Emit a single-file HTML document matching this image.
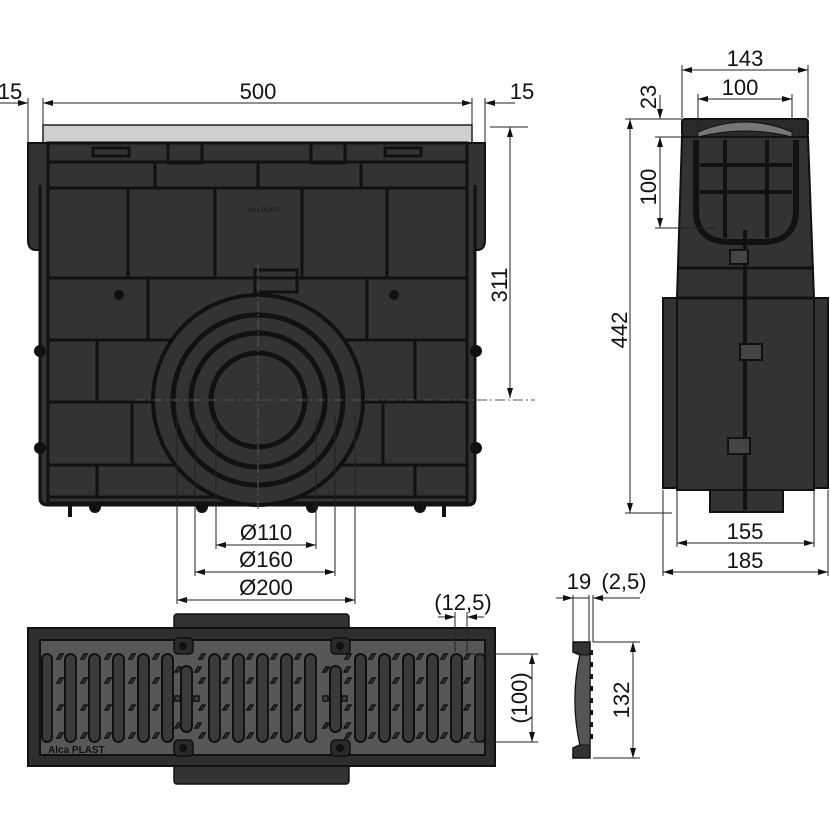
<!DOCTYPE html>
<html><head><meta charset="utf-8"><style>
html,body{margin:0;padding:0;background:#fff;}
svg{display:block;}
text{font-family:"Liberation Sans Narrow","Liberation Sans",sans-serif;font-size:22px;fill:#111;}
</style></head><body>
<svg width="830" height="830" viewBox="0 0 830 830" xmlns="http://www.w3.org/2000/svg">
<defs>
<marker id="a" viewBox="0 0 10 6" refX="10" refY="3" markerWidth="12" markerHeight="6" orient="auto-start-reverse" markerUnits="userSpaceOnUse"><path d="M0,0L10,3L0,6z" fill="#111"/></marker>
</defs>
<!-- ============ FRONT VIEW ============ -->
<rect x="43" y="125" width="429" height="18" fill="#cfcfcf" stroke="#222" stroke-width="1.5"/>
<path d="M28,143 L50,143 L50,250 L36,250 Q28,250 28,240 Z" fill="#333" stroke="#111" stroke-width="2"/>
<path d="M465,143 L485,143 L485,240 Q485,250 477,250 L465,250 Z" fill="#333" stroke="#111" stroke-width="2"/>
<path d="M40,185 L40,498 Q40,505 48,505 L468,505 Q475,505 475,498 L475,185" fill="#333" stroke="#111" stroke-width="3"/>
<rect x="48" y="143" width="419" height="360" fill="#333" stroke="#111" stroke-width="3"/>
<g stroke="#111" stroke-width="3" fill="none">
<line x1="48" y1="162" x2="467" y2="162"/>
<line x1="48" y1="188" x2="467" y2="188"/>
<line x1="48" y1="278" x2="467" y2="278"/>
<line x1="48" y1="340" x2="467" y2="340"/>
<line x1="48" y1="402" x2="467" y2="402"/>
<line x1="48" y1="465" x2="467" y2="465"/>
<line x1="48" y1="497" x2="467" y2="497"/>
<line x1="155" y1="162" x2="155" y2="188"/><line x1="258" y1="162" x2="258" y2="188"/><line x1="361" y1="162" x2="361" y2="188"/>
<line x1="128" y1="188" x2="128" y2="278"/><line x1="215" y1="188" x2="215" y2="278"/><line x1="302" y1="188" x2="302" y2="278"/><line x1="387" y1="188" x2="387" y2="278"/>
<line x1="148" y1="278" x2="148" y2="340"/><line x1="367" y1="278" x2="367" y2="340"/>
<line x1="97" y1="340" x2="97" y2="402"/><line x1="415" y1="340" x2="415" y2="402"/>
<line x1="132" y1="402" x2="132" y2="465"/><line x1="383" y1="402" x2="383" y2="465"/>
<line x1="97" y1="465" x2="97" y2="497"/><line x1="415" y1="465" x2="415" y2="497"/>
<rect x="93" y="148" width="36" height="8"/><rect x="385" y="148" width="36" height="8"/>
<rect x="168" y="143" width="34" height="20"/><rect x="311" y="143" width="34" height="20"/>
<rect x="255" y="270" width="42" height="22"/>
</g>
<circle cx="258" cy="400" r="105" fill="#333" stroke="#111" stroke-width="4"/>
<circle cx="258" cy="400" r="85" fill="none" stroke="#111" stroke-width="5"/>
<circle cx="258" cy="400" r="67" fill="none" stroke="#111" stroke-width="5"/>
<circle cx="258" cy="400" r="47" fill="none" stroke="#111" stroke-width="5"/>
<g fill="#111">
<circle cx="119" cy="295" r="5"/><circle cx="394" cy="295" r="5"/>
<circle cx="40" cy="351" r="6"/><circle cx="40" cy="448" r="6"/><circle cx="476" cy="351" r="6"/><circle cx="476" cy="448" r="6"/>
<circle cx="95" cy="507" r="6"/><circle cx="202" cy="507" r="6"/><circle cx="312" cy="507" r="6"/><circle cx="420" cy="507" r="6"/>
<rect x="68" y="505" width="4" height="12"/><rect x="442" y="505" width="4" height="12"/>
</g>
<text x="248" y="212" style="font-size:6px;fill:#111">Alca PLAST</text>
<g stroke="#555" stroke-width="1" stroke-dasharray="10,3,2,3" fill="none">
<line x1="258" y1="265" x2="258" y2="510"/><line x1="135" y1="400" x2="535" y2="400"/>
</g>
<g stroke="#222" stroke-width="1" fill="none">
<line x1="28" y1="98" x2="28" y2="143"/><line x1="43" y1="98" x2="43" y2="125"/><line x1="472" y1="98" x2="472" y2="125"/><line x1="485" y1="98" x2="485" y2="143"/>
<line x1="43" y1="103" x2="472" y2="103" marker-start="url(#a)" marker-end="url(#a)"/>
<line x1="0" y1="103" x2="28" y2="103" marker-end="url(#a)"/>
<line x1="515" y1="103" x2="485" y2="103" marker-end="url(#a)"/>
<line x1="490" y1="127" x2="528" y2="127"/>
<line x1="510" y1="127" x2="510" y2="398" marker-start="url(#a)" marker-end="url(#a)"/>
<line x1="177" y1="415" x2="177" y2="604"/><line x1="355" y1="415" x2="355" y2="604"/>
<line x1="195" y1="415" x2="195" y2="576"/><line x1="335" y1="415" x2="335" y2="576"/>
<line x1="216" y1="420" x2="216" y2="549"/><line x1="316" y1="420" x2="316" y2="549"/>
<line x1="216" y1="545" x2="316" y2="545" marker-start="url(#a)" marker-end="url(#a)"/>
<line x1="195" y1="572" x2="335" y2="572" marker-start="url(#a)" marker-end="url(#a)"/>
<line x1="177" y1="600" x2="355" y2="600" marker-start="url(#a)" marker-end="url(#a)"/>
</g>
<text x="258" y="99" text-anchor="middle">500</text>
<text x="10" y="99" text-anchor="middle">15</text>
<text x="522" y="99" text-anchor="middle">15</text>
<text transform="translate(507,285) rotate(-90)" text-anchor="middle">311</text>
<text x="266" y="540" text-anchor="middle">Ø110</text>
<text x="266" y="567" text-anchor="middle">Ø160</text>
<text x="266" y="595" text-anchor="middle">Ø200</text>
<!-- ============ SIDE VIEW ============ -->
<rect x="663" y="298" width="165" height="190" fill="#333" stroke="#111" stroke-width="2"/>
<rect x="710" y="486" width="73" height="26" fill="#333" stroke="#111" stroke-width="2"/>
<path d="M682,137 L677,298 L814,298 L808,137 Z" fill="#333" stroke="#111" stroke-width="2"/>
<rect x="677" y="298" width="137" height="192" fill="#333" stroke="#111" stroke-width="2"/>
<line x1="677" y1="268" x2="814" y2="268" stroke="#111" stroke-width="3"/>
<line x1="677" y1="298" x2="814" y2="298" stroke="#111" stroke-width="3"/>
<rect x="682" y="119" width="126" height="18" rx="3" fill="#2a2a2a" stroke="#111" stroke-width="2"/>
<path d="M698,132 Q745,112 792,132 L792,137 Q745,125 698,137Z" fill="#777" stroke="#111" stroke-width="1"/>
<path d="M696,140 L696,210 Q696,242 730,242 L762,242 Q796,242 796,210 L796,140" fill="none" stroke="#111" stroke-width="6"/>
<g stroke="#111" stroke-width="4"><line x1="725" y1="140" x2="725" y2="238"/><line x1="767" y1="140" x2="767" y2="238"/><line x1="700" y1="165" x2="792" y2="165"/><line x1="700" y1="192" x2="792" y2="192"/></g>
<line x1="745" y1="230" x2="745" y2="510" stroke="#111" stroke-width="4"/>
<g fill="#444" stroke="#111" stroke-width="2"><rect x="730" y="250" width="18" height="14"/><rect x="740" y="344" width="22" height="16"/><rect x="728" y="438" width="22" height="16"/></g>
<g stroke="#222" stroke-width="1" fill="none">
<line x1="682" y1="65" x2="682" y2="118"/><line x1="808" y1="65" x2="808" y2="118"/>
<line x1="682" y1="70" x2="808" y2="70" marker-start="url(#a)" marker-end="url(#a)"/>
<line x1="698" y1="94" x2="698" y2="135"/><line x1="792" y1="94" x2="792" y2="135"/>
<line x1="698" y1="99" x2="792" y2="99" marker-start="url(#a)" marker-end="url(#a)"/>
<line x1="625" y1="119" x2="682" y2="119"/><line x1="655" y1="137" x2="682" y2="137"/><line x1="655" y1="228" x2="717" y2="228"/>
<line x1="660" y1="95" x2="660" y2="119" marker-end="url(#a)"/>
<line x1="660" y1="137" x2="660" y2="228" marker-start="url(#a)" marker-end="url(#a)"/>
<line x1="630" y1="119" x2="630" y2="513" marker-start="url(#a)" marker-end="url(#a)"/>
<line x1="625" y1="513" x2="672" y2="513"/>
<line x1="677" y1="490" x2="677" y2="547"/><line x1="814" y1="490" x2="814" y2="547"/>
<line x1="663" y1="490" x2="663" y2="576"/><line x1="828" y1="490" x2="828" y2="576"/>
<line x1="677" y1="543" x2="814" y2="543" marker-start="url(#a)" marker-end="url(#a)"/>
<line x1="663" y1="572" x2="828" y2="572" marker-start="url(#a)" marker-end="url(#a)"/>
</g>
<text x="745" y="66" text-anchor="middle">143</text>
<text x="740" y="95" text-anchor="middle">100</text>
<text transform="translate(656,97) rotate(-90)" text-anchor="middle">23</text>
<text transform="translate(656,187) rotate(-90)" text-anchor="middle">100</text>
<text transform="translate(627,330) rotate(-90)" text-anchor="middle">442</text>
<text x="745" y="539" text-anchor="middle">155</text>
<text x="745" y="568" text-anchor="middle">185</text>
<!-- ============ GRATE TOP VIEW ============ -->
<rect x="174" y="614" width="175" height="170" rx="3" fill="#333" stroke="#111" stroke-width="1.5"/>
<rect x="28" y="628" width="467" height="138" fill="#2e2e2e" stroke="#111" stroke-width="2"/>
<rect x="40" y="640" width="445" height="115" fill="#575757" stroke="#111" stroke-width="2"/>
<g fill="#3a3a3a" stroke="#111" stroke-width="2">
<rect x="42" y="654" width="10" height="88" rx="5"/>
<rect x="65" y="654" width="11" height="88" rx="5.5"/><rect x="89" y="654" width="11" height="88" rx="5.5"/><rect x="113" y="654" width="11" height="88" rx="5.5"/><rect x="138" y="654" width="11" height="88" rx="5.5"/><rect x="162" y="654" width="11" height="88" rx="5.5"/>
<rect x="181" y="666" width="11" height="66" rx="5.5"/>
<rect x="209" y="654" width="11" height="88" rx="5.5"/><rect x="233" y="654" width="11" height="88" rx="5.5"/><rect x="257" y="654" width="11" height="88" rx="5.5"/><rect x="281" y="654" width="11" height="88" rx="5.5"/><rect x="305" y="654" width="11" height="88" rx="5.5"/>
<rect x="330" y="666" width="11" height="66" rx="5.5"/>
<rect x="355" y="654" width="11" height="88" rx="5.5"/><rect x="379" y="654" width="11" height="88" rx="5.5"/><rect x="403" y="654" width="11" height="88" rx="5.5"/><rect x="427" y="654" width="11" height="88" rx="5.5"/><rect x="451" y="654" width="11" height="88" rx="5.5"/><rect x="475" y="654" width="10" height="88" rx="5"/>
</g>
<g fill="#2a2a2a" stroke="#111" stroke-width="1.5">
<rect x="174" y="638" width="19" height="16" rx="4"/><rect x="331" y="638" width="19" height="16" rx="4"/>
<rect x="174" y="740" width="19" height="16" rx="4"/><rect x="331" y="740" width="19" height="16" rx="4"/>
</g>
<g fill="#111"><circle cx="183" cy="646" r="4"/><circle cx="340" cy="646" r="4"/><circle cx="183" cy="748" r="4"/><circle cx="340" cy="748" r="4"/></g>
<g fill="#444" stroke="#111" stroke-width="1.5">
<path d="M57,659l3,-5l3,0l-3,5z M57,683l3,-5l3,0l-3,5z M57,710l3,-5l3,0l-3,5z M57,738l3,-5l3,0l-3,5z
M81,659l3,-5l3,0l-3,5z M81,683l3,-5l3,0l-3,5z M81,710l3,-5l3,0l-3,5z M81,738l3,-5l3,0l-3,5z
M105,659l3,-5l3,0l-3,5z M105,683l3,-5l3,0l-3,5z M105,710l3,-5l3,0l-3,5z M105,738l3,-5l3,0l-3,5z
M129,659l3,-5l3,0l-3,5z M129,683l3,-5l3,0l-3,5z M129,710l3,-5l3,0l-3,5z M129,738l3,-5l3,0l-3,5z
M153,659l3,-5l3,0l-3,5z M153,683l3,-5l3,0l-3,5z M153,710l3,-5l3,0l-3,5z M153,738l3,-5l3,0l-3,5z
M199,659l3,-5l3,0l-3,5z M199,683l3,-5l3,0l-3,5z M199,710l3,-5l3,0l-3,5z M199,738l3,-5l3,0l-3,5z
M223,659l3,-5l3,0l-3,5z M223,683l3,-5l3,0l-3,5z M223,710l3,-5l3,0l-3,5z M223,738l3,-5l3,0l-3,5z
M247,659l3,-5l3,0l-3,5z M247,683l3,-5l3,0l-3,5z M247,710l3,-5l3,0l-3,5z M247,738l3,-5l3,0l-3,5z
M271,659l3,-5l3,0l-3,5z M271,683l3,-5l3,0l-3,5z M271,710l3,-5l3,0l-3,5z M271,738l3,-5l3,0l-3,5z
M295,659l3,-5l3,0l-3,5z M295,683l3,-5l3,0l-3,5z M295,710l3,-5l3,0l-3,5z M295,738l3,-5l3,0l-3,5z
M345,659l3,-5l3,0l-3,5z M345,683l3,-5l3,0l-3,5z M345,710l3,-5l3,0l-3,5z M345,738l3,-5l3,0l-3,5z
M369,659l3,-5l3,0l-3,5z M369,683l3,-5l3,0l-3,5z M369,710l3,-5l3,0l-3,5z M369,738l3,-5l3,0l-3,5z
M393,659l3,-5l3,0l-3,5z M393,683l3,-5l3,0l-3,5z M393,710l3,-5l3,0l-3,5z M393,738l3,-5l3,0l-3,5z
M417,659l3,-5l3,0l-3,5z M417,683l3,-5l3,0l-3,5z M417,710l3,-5l3,0l-3,5z M417,738l3,-5l3,0l-3,5z
M441,659l3,-5l3,0l-3,5z M441,683l3,-5l3,0l-3,5z M441,710l3,-5l3,0l-3,5z M441,738l3,-5l3,0l-3,5z
M464,659l3,-5l3,0l-3,5z M464,683l3,-5l3,0l-3,5z M464,710l3,-5l3,0l-3,5z M464,738l3,-5l3,0l-3,5z
M175,672l3,-5l3,0l-3,5z M195,672l3,-5l3,0l-3,5z M175,728l3,-5l3,0l-3,5z M195,728l3,-5l3,0l-3,5z
M323,672l3,-5l3,0l-3,5z M344,672l3,-5l3,0l-3,5z M323,728l3,-5l3,0l-3,5z M344,728l3,-5l3,0l-3,5z"/>
<rect x="175" y="696" width="5" height="5"/><rect x="194" y="696" width="5" height="5"/>
<rect x="323" y="696" width="5" height="5"/><rect x="342" y="696" width="5" height="5"/>
</g>
<text x="48" y="753" style="font-size:10px;font-weight:bold;fill:#111">Alca PLAST</text>
<g stroke="#222" stroke-width="1" fill="none">
<line x1="455" y1="612" x2="455" y2="652"/><line x1="467" y1="612" x2="467" y2="652"/>
<line x1="438" y1="617" x2="455" y2="617" marker-end="url(#a)"/>
<line x1="484" y1="617" x2="467" y2="617" marker-end="url(#a)"/>
<line x1="470" y1="654" x2="538" y2="654"/><line x1="470" y1="742" x2="538" y2="742"/>
<line x1="532" y1="654" x2="532" y2="742" marker-start="url(#a)" marker-end="url(#a)"/>
</g>
<text x="463" y="610" text-anchor="middle">(12,5)</text>
<text transform="translate(527,698) rotate(-90)" text-anchor="middle">(100)</text>
<!-- ============ GRATE SECTION ============ -->
<path d="M573,642 L590,642 L590,758 L573,758 L573,748 L580,745 Q570,700 580,655 L573,652 Z" fill="#333" stroke="#111" stroke-width="1.5"/>
<path d="M580,655 Q570,700 580,745 L590,745 L590,655Z" fill="#555" stroke="#111" stroke-width="1"/>
<g fill="#111"><rect x="590" y="650" width="3" height="5"/><rect x="590" y="662" width="3" height="5"/><rect x="590" y="674" width="3" height="5"/><rect x="590" y="686" width="3" height="5"/><rect x="590" y="698" width="3" height="5"/><rect x="590" y="710" width="3" height="5"/><rect x="590" y="722" width="3" height="5"/><rect x="590" y="734" width="3" height="5"/></g>
<g stroke="#222" stroke-width="1" fill="none">
<line x1="573" y1="595" x2="573" y2="642"/><line x1="589" y1="595" x2="589" y2="642"/><line x1="593" y1="595" x2="593" y2="642"/>
<line x1="556" y1="598" x2="573" y2="598" marker-end="url(#a)"/>
<line x1="573" y1="598" x2="589" y2="598"/>
<line x1="640" y1="598" x2="593" y2="598" marker-end="url(#a)"/>
<line x1="593" y1="642" x2="640" y2="642"/><line x1="593" y1="758" x2="640" y2="758"/>
<line x1="633" y1="642" x2="633" y2="758" marker-start="url(#a)" marker-end="url(#a)"/>
</g>
<text x="579" y="589" text-anchor="middle">19</text>
<text x="624" y="589" text-anchor="middle">(2,5)</text>
<text transform="translate(629,700) rotate(-90)" text-anchor="middle">132</text>
</svg>
</body></html>
